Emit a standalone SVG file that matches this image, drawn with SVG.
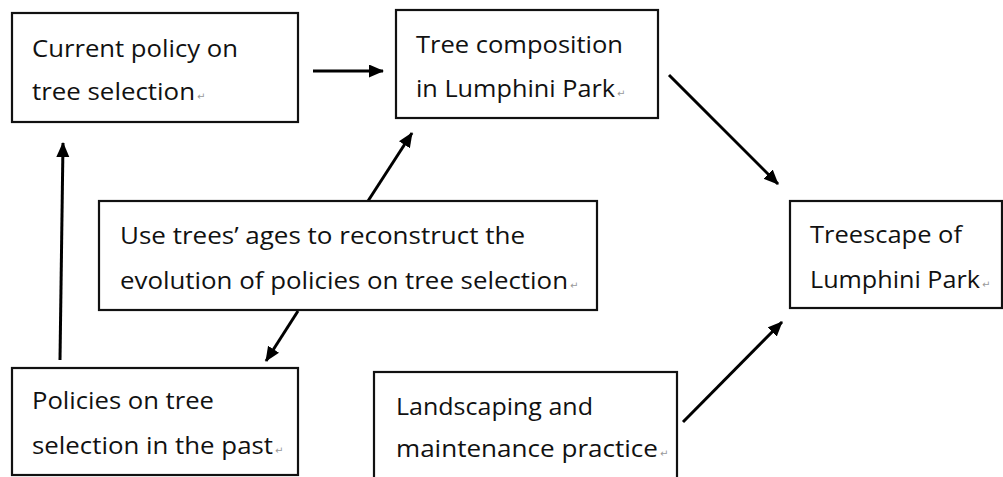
<svg xmlns="http://www.w3.org/2000/svg" width="1003" height="477" viewBox="0 0 1003 477">
<style>
.box{fill:#fff;stroke:#111;stroke-width:2.2}
.t{font-family:"Open Sans","Liberation Sans",sans-serif;font-size:23.5px;fill:#111}
.r{font-family:"DejaVu Sans",sans-serif;font-size:10px;fill:#999}
.c{stroke:#000;stroke-width:3;fill:none;marker-end:url(#ah)}
</style>
<defs>
<marker id="ah" markerUnits="userSpaceOnUse" markerWidth="16" markerHeight="14" refX="14" refY="6.5" orient="auto">
<path d="M0,0 L15,6.5 L0,13 Z" fill="#000"/>
</marker>
</defs>
<rect width="1003" height="477" fill="#fff"/>
<g id="connectors">
<line class="c" x1="313" y1="71" x2="383" y2="71"/>
<line class="c" x1="60" y1="360" x2="63" y2="143"/>
<line class="c" x1="669" y1="75" x2="778" y2="184"/>
<line class="c" x1="683" y1="422" x2="782" y2="322"/>
<line class="c" x1="368" y1="201" x2="412" y2="133"/>
<line class="c" x1="298" y1="311" x2="266" y2="361"/>
</g>
<g id="current-policy">
<rect class="box" x="12" y="13" width="286" height="109"/>
<text class="t" x="32" y="57" textLength="206" lengthAdjust="spacingAndGlyphs">Current policy on</text>
<text class="t" x="32" y="100" textLength="163" lengthAdjust="spacingAndGlyphs">tree selection</text>
<text class="r" x="197" y="100">↵</text>
</g>
<g id="tree-composition">
<rect class="box" x="396" y="10" width="262" height="108"/>
<text class="t" x="416" y="53" textLength="207" lengthAdjust="spacingAndGlyphs">Tree composition</text>
<text class="t" x="416" y="97" textLength="199" lengthAdjust="spacingAndGlyphs">in Lumphini Park</text>
<text class="r" x="617" y="97">↵</text>
</g>
<g id="use-trees-ages">
<rect class="box" x="99" y="201" width="498" height="109"/>
<text class="t" x="120" y="244" textLength="405" lengthAdjust="spacingAndGlyphs">Use trees’ ages to reconstruct the</text>
<text class="t" x="120" y="289" textLength="448" lengthAdjust="spacingAndGlyphs">evolution of policies on tree selection</text>
<text class="r" x="570" y="289">↵</text>
</g>
<g id="treescape">
<rect class="box" x="790" y="201" width="212" height="107"/>
<text class="t" x="810" y="243" textLength="152" lengthAdjust="spacingAndGlyphs">Treescape of</text>
<text class="t" x="810" y="288" textLength="170" lengthAdjust="spacingAndGlyphs">Lumphini Park</text>
<text class="r" x="982" y="288">↵</text>
</g>
<g id="policies-past">
<rect class="box" x="12" y="368" width="286" height="107"/>
<text class="t" x="32" y="409" textLength="182" lengthAdjust="spacingAndGlyphs">Policies on tree</text>
<text class="t" x="32" y="454" textLength="241" lengthAdjust="spacingAndGlyphs">selection in the past</text>
<text class="r" x="275" y="454">↵</text>
</g>
<g id="landscaping">
<rect class="box" x="374" y="372" width="303" height="120"/>
<text class="t" x="396" y="415" textLength="197" lengthAdjust="spacingAndGlyphs">Landscaping and</text>
<text class="t" x="396" y="457" textLength="262" lengthAdjust="spacingAndGlyphs">maintenance practice</text>
<text class="r" x="660" y="457">↵</text>
</g>
</svg>
